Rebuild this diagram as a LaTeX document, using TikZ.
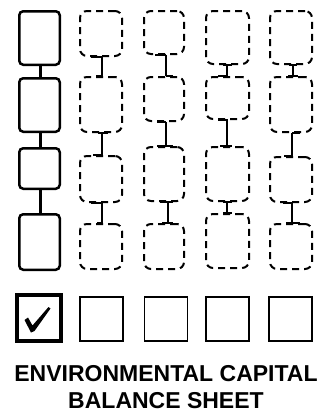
\documentclass[tikz,border=0pt]{standalone}
\usepackage{fontspec}
\setmainfont{Liberation Sans}
\begin{document}
\begin{tikzpicture}[x=1pt,y=-1pt,
  solidbox/.style={draw=black,line width=2.5pt,rounded corners=4pt,inner sep=0pt},
  dashbox/.style={draw=black,line width=2pt,rounded corners=7pt,inner sep=0pt,dash pattern=on 7pt off 5pt},
  link/.style={draw=black,line width=2pt},
  solidlink/.style={draw=black,line width=2.2pt},
  tick/.style={draw=black,line width=4pt,inner sep=0pt,minimum width=44pt,minimum height=46pt},
  tickbox/.style={draw=black,line width=1.8pt,inner sep=0pt,minimum width=43pt,minimum height=44pt},
  caption/.style={font=\fontsize{23}{27}\selectfont\bfseries,inner sep=0pt,anchor=base}]
\useasboundingbox (0,0) rectangle (323,413);
\newcommand\lnk[7]{%
  \draw[link] ([xshift=#4pt]#1.south) -- ([xshift=#5pt]#1.south);
  \draw[link] ([xshift=#3pt]#1.south) -- ([xshift=#3pt]#2.north);
  \draw[link] ([xshift=#6pt]#2.north) -- ([xshift=#7pt]#2.north);}
% column 1 (solid)
\node[solidbox,minimum width=40.5pt,minimum height=53.5pt] (a1) at (39.5,38) {};
\node[solidbox,minimum width=40.5pt,minimum height=53.5pt] (a2) at (39.5,105) {};
\node[solidbox,minimum width=40.5pt,minimum height=40.5pt] (a3) at (39.5,168.5) {};
\node[solidbox,minimum width=40.5pt,minimum height=55.5pt] (a4) at (39.5,242) {};
\draw[solidlink] ([xshift=1pt]a1.south) -- ([xshift=1pt]a2.north);
\draw[solidlink] ([xshift=1pt]a2.south) -- ([xshift=1pt]a3.north);
\draw[solidlink] ([xshift=1pt]a3.south) -- ([xshift=1pt]a4.north);
% column 2
\node[dashbox,minimum width=42pt,minimum height=45pt] (b1) at (101,33.5) {};
\node[dashbox,minimum width=42pt,minimum height=55pt] (b2) at (101,104.5) {};
\node[dashbox,minimum width=42pt,minimum height=46pt] (b3) at (101,179) {};
\node[dashbox,minimum width=42pt,minimum height=45pt] (b4) at (101,246.5) {};
\lnk{b1}{b2}{1}{-10}{1}{-5}{1}
\lnk{b2}{b3}{1}{-3}{7}{-8}{1}
\lnk{b3}{b4}{1}{-10}{1}{-4}{1}
% column 3
\node[dashbox,minimum width=40pt,minimum height=43pt] (c1) at (164,32.5) {};
\node[dashbox,minimum width=40pt,minimum height=44pt] (c2) at (164,99) {};
\node[dashbox,minimum width=40pt,minimum height=54pt] (c3) at (164,174) {};
\node[dashbox,minimum width=40pt,minimum height=45pt] (c4) at (164,246.5) {};
\lnk{c1}{c2}{2}{-9}{2}{2}{9}
\lnk{c2}{c3}{2}{-7}{2}{-7}{9}
\lnk{c3}{c4}{4}{-4}{9}{-2}{9}
% column 4
\node[dashbox,minimum width=43pt,minimum height=53pt] (d1) at (227.5,37.5) {};
\node[dashbox,minimum width=43pt,minimum height=42pt] (d2) at (227.5,98) {};
\node[dashbox,minimum width=43pt,minimum height=54pt] (d3) at (227.5,174) {};
\node[dashbox,minimum width=43pt,minimum height=54pt] (d4) at (227.5,241) {};
\lnk{d1}{d2}{-0.5}{-4.5}{4.5}{-9.5}{0.5}
\lnk{d2}{d3}{-0.5}{-9.5}{0.5}{-7.5}{4.5}
\lnk{d3}{d4}{-0.5}{-4.5}{4.5}{-4.5}{4.5}
% column 5
\node[dashbox,minimum width=42pt,minimum height=53pt] (e1) at (291,37.5) {};
\node[dashbox,minimum width=42pt,minimum height=55pt] (e2) at (291,104.5) {};
\node[dashbox,minimum width=42pt,minimum height=45pt] (e3) at (291,179.5) {};
\node[dashbox,minimum width=42pt,minimum height=45pt] (e4) at (291,246.5) {};
\lnk{e1}{e2}{2}{-2}{6}{-3}{7}
\lnk{e2}{e3}{1}{1}{9}{-7}{1}
\lnk{e3}{e4}{1}{-8}{2}{-5}{9}
% check boxes
\node[tick] (k1) at (39,318) {};
\node[tickbox] (k2) at (101.5,319) {};
\node[tickbox] (k3) at (166,319) {};
\node[tickbox] (k4) at (227.5,319) {};
\node[tickbox] (k5) at (290.5,319) {};
\fill[black] (24.5,320) -- (28,317.5) -- (32.5,325.5) -- (48.5,307) -- (50.5,308.5) -- (34.5,331) -- (31,332.5) -- cycle;
% caption
\node[caption] (t1) at (166,381.5) {ENVIRONMENTAL CAPITAL};
\node[caption] (t2) at (166,408) {BALANCE SHEET};
\end{tikzpicture}
\end{document}
